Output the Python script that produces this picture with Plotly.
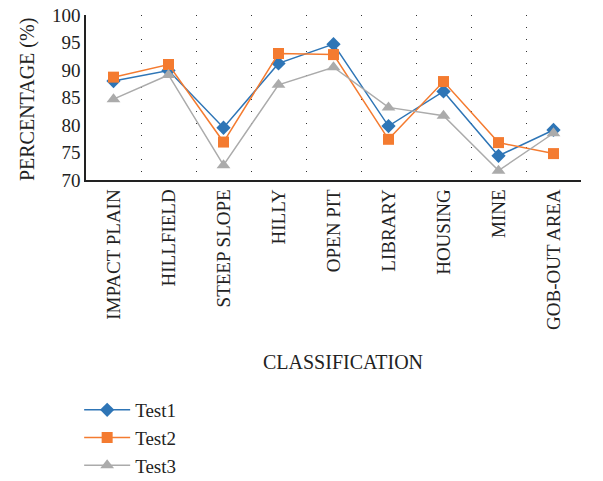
import plotly.graph_objects as go

categories = ["IMPACT PLAIN", "HILLFIELD", "STEEP SLOPE", "HILLY", "OPEN PIT",
              "LIBRARY", "HOUSING", "MINE", "GOB-OUT AREA"]
test1 = [88.0, 89.9, 79.5, 91.2, 94.7, 79.8, 86.1, 74.4, 79.1]
test2 = [88.7, 91.0, 76.9, 93.0, 92.8, 77.4, 87.9, 76.8, 74.8]
test3 = [84.7, 89.1, 72.7, 87.3, 90.5, 83.2, 81.7, 71.7, 78.5]
y_ticks = [70, 75, 80, 85, 90, 95, 100]
x_title = "CLASSIFICATION"
y_title = "PERCENTAGE (%)"

font = "Liberation Serif, Times New Roman, serif"
fig = go.Figure()
fig.add_trace(go.Scatter(x=categories, y=test1, name="Test1", mode="lines+markers",
                         line=dict(color="#2E75B6", width=1.5),
                         marker=dict(symbol="diamond", size=11, color="#2E75B6")))
fig.add_trace(go.Scatter(x=categories, y=test2, name="Test2", mode="lines+markers",
                         line=dict(color="#F47B30", width=1.5),
                         marker=dict(symbol="square", size=11, color="#F47B30")))
fig.add_trace(go.Scatter(x=categories, y=test3, name="Test3", mode="lines+markers",
                         line=dict(color="#ABABAB", width=1.5),
                         marker=dict(symbol="triangle-up", size=12, color="#ABABAB")))

fig.update_layout(
    width=603, height=481,
    margin=dict(l=78, r=30, t=7, b=309, autoexpand=False),
    paper_bgcolor="white", plot_bgcolor="white",
    font=dict(family=font, size=19, color="#222"),
    showlegend=True,
    legend=dict(xref="container", yref="container", x=0.118, y=0.106,
                xanchor="left", yanchor="middle",
                font=dict(family=font, size=19, color="#222"),
                tracegroupgap=0, itemwidth=46),
    xaxis=dict(type="category", tickangle=-90, tickson="boundaries", automargin=False,
               showgrid=True, gridcolor="#333", griddash="1px,11px", gridwidth=1,
               showline=True, linecolor="#222", linewidth=1.5,
               ticks="", ticklen=0, ticklabeloverflow="allow",
               tickfont=dict(family=font, size=19), range=[-0.5, 8.5]),
    yaxis=dict(range=[70, 100], tickvals=y_ticks, showgrid=False, automargin=False,
               showline=True, linecolor="#222", linewidth=1.5, zeroline=False,
               ticks="", ticklabeloverflow="allow",
               tickfont=dict(family=font, size=19)),
    annotations=[
        dict(text=x_title, xref="paper", yref="paper", x=0.519, y=-1.103,
             xanchor="center", yanchor="middle", showarrow=False,
             font=dict(family=font, size=20, color="#222")),
        dict(text=y_title, xref="paper", yref="paper", x=-0.117, y=0.485,
             xanchor="center", yanchor="middle", showarrow=False, textangle=-90,
             font=dict(family=font, size=20, color="#222")),
    ],
)
fig.write_html("out.html")
